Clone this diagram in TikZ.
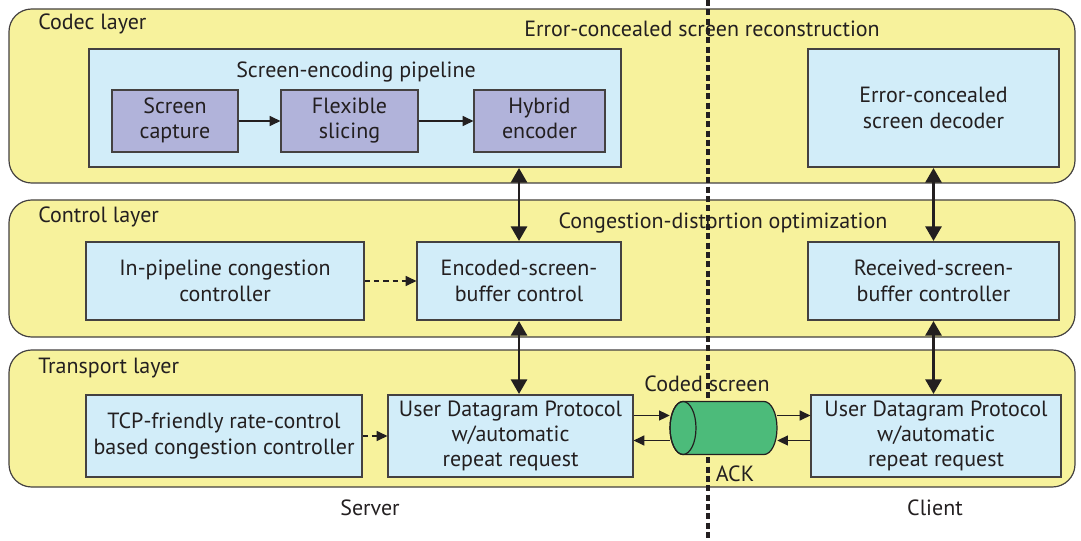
\documentclass[tikz,border=0pt]{standalone}
\usepackage{fontspec}
\setmainfont{PT Sans}
\usetikzlibrary{arrows.meta,calc}
\definecolor{layerfill}{HTML}{F7F29C}
\definecolor{boxfill}{HTML}{D2EDF9}
\definecolor{purpfill}{HTML}{B1B3DA}
\definecolor{cylfill}{HTML}{4CBB7A}
\definecolor{ink}{HTML}{231F20}
\def\pu{0.75pt}
\begin{document}
\begin{tikzpicture}[x=0.75pt,y=0.75pt,
  font=\fontsize{16.5}{19}\selectfont, text=ink,
  layer/.style={draw=ink!85, line width=0.9pt, fill=layerfill, rounded corners=17pt, inner sep=0pt},
  bluebox/.style={draw=ink!85, line width=0.9pt, fill=boxfill, align=center, inner sep=0pt},
  purpbox/.style={draw=ink!85, line width=0.9pt, fill=purpfill, align=center, inner sep=0pt},
  lbl/.style={inner sep=0pt, anchor=west},
  ttl/.style={inner sep=0pt},
  arr/.style={draw=ink, line width=0.9pt, -{Triangle[length=8pt,width=7.5pt]}},
  dasharr/.style={draw=ink, line width=0.9pt, dash pattern=on 4pt off 3pt, -{Triangle[length=8pt,width=7.5pt]}},
  bigarr/.style={draw=ink, line width=2.2pt, {Triangle[length=11pt,width=12pt]}-{Triangle[length=11pt,width=12pt]}, shorten <=0.3pt, shorten >=0.3pt}
]
\useasboundingbox (0,0) rectangle (1081,540);
% layers
\node[layer, minimum width=1066*\pu, minimum height=174*\pu] (codec) at (542,444) {};
\node[layer, minimum width=1066*\pu, minimum height=137*\pu] (control) at (542,271.5) {};
\node[layer, minimum width=1066*\pu, minimum height=137*\pu] (transport) at (542,121.5) {};
% divider
\coordinate (dtop) at (708,540);
\coordinate (dbot) at (708,0);
\draw[ink, line width=2.3pt, dash pattern=on 4.5pt off 2.5pt] (dtop) -- (dbot);
% layer labels
\node[lbl] (lcodec) at (38,516) {Codec layer};
\node[ttl] (lrecon) at (702,511) {Error-concealed screen reconstruction};
\node[lbl] (lcontrol) at (38,323) {Control layer};
\node[ttl] (lcdo) at (723,317) {Congestion-distortion optimization};
\node[lbl] (ltransport) at (38,172) {Transport layer};
% codec layer boxes
\node[bluebox, minimum width=532*\pu, minimum height=118*\pu] (pipeline) at (355,432) {};
\node[ttl] (lpipe) at (356,468) {Screen-encoding pipeline};
\node[purpbox, minimum width=126*\pu, minimum height=62*\pu] (capture) at (175,419) {\strut Screen\\\strut capture};
\node[purpbox, minimum width=137*\pu, minimum height=62*\pu] (slicing) at (349.5,419) {\strut Flexible\\\strut slicing};
\node[purpbox, minimum width=131*\pu, minimum height=62*\pu] (hybrid) at (539.5,419) {\strut Hybrid\\\strut encoder};
\node[bluebox, minimum width=251*\pu, minimum height=118*\pu] (decoder) at (933.5,432) {Error-concealed\\screen decoder};
% control layer boxes
\node[bluebox, minimum width=278*\pu, minimum height=78*\pu] (inpipe) at (225,259) {In-pipeline congestion\\controller};
\node[bluebox, minimum width=204*\pu, minimum height=78*\pu] (encbuf) at (519,259) {Encoded-screen-\\buffer control};
\node[bluebox, minimum width=251*\pu, minimum height=78*\pu] (recbuf) at (933.5,259) {Received-screen-\\buffer controller};
% transport layer boxes
\node[bluebox, minimum width=276*\pu, minimum height=82*\pu] (tcp) at (224,104) {TCP-friendly rate-control\\based congestion controller};
\node[bluebox, minimum width=245*\pu, minimum height=82*\pu] (udps) at (510.5,104) {User Datagram Protocol\\w/automatic\\repeat request};
\node[bluebox, minimum width=250*\pu, minimum height=82*\pu] (udpc) at (936,104) {User Datagram Protocol\\w/automatic\\repeat request};
% cylinder
\node[minimum width=107*\pu, minimum height=54*\pu, inner sep=0pt] (cyl) at (723.5,112) {};
\filldraw[fill=cylfill, draw=ink, line width=0.9pt]
  (683,138.5) -- (764,138.5) arc[start angle=90, end angle=-90, x radius=13, y radius=26.5]
  -- (683,85.5) arc[start angle=270, end angle=90, x radius=13, y radius=26.5] -- cycle;
\draw[ink, line width=0.9pt] (683,112) ellipse[x radius=13, y radius=26.5];
\node[ttl] (lcoded) at (707,156) {Coded screen};
\node[ttl] (lack) at (735,66) {ACK};
\node[ttl] (lserver) at (370,32) {Server};
\node[ttl] (lclient) at (935,32) {Client};
% connectors
\draw[arr] (capture) -- (slicing);
\draw[arr] (slicing) -- (hybrid);
\draw[dasharr] (inpipe.east) -- (encbuf.west);
\draw[dasharr] (tcp.east) -- (udps.west);
\draw[bigarr] (encbuf.north) -- (encbuf.north |- pipeline.south);
\draw[bigarr] (encbuf.south) -- (encbuf.south |- udps.north);
\draw[bigarr] (recbuf.north) -- (recbuf.north |- decoder.south);
\draw[bigarr] (recbuf.south) -- (recbuf.south |- udpc.north);
\coordinate (cu) at ($(cyl.center)+(0,12.5)$);
\coordinate (cl) at ($(cyl.center)+(0,-12.5)$);
\draw[arr] (udps.east |- cu) -- (cyl.west |- cu);
\draw[arr] (cyl.west |- cl) -- (udps.east |- cl);
\draw[arr] (cyl.east |- cu) -- (udpc.west |- cu);
\draw[arr] (udpc.west |- cl) -- (cyl.east |- cl);
\end{tikzpicture}
\end{document}
